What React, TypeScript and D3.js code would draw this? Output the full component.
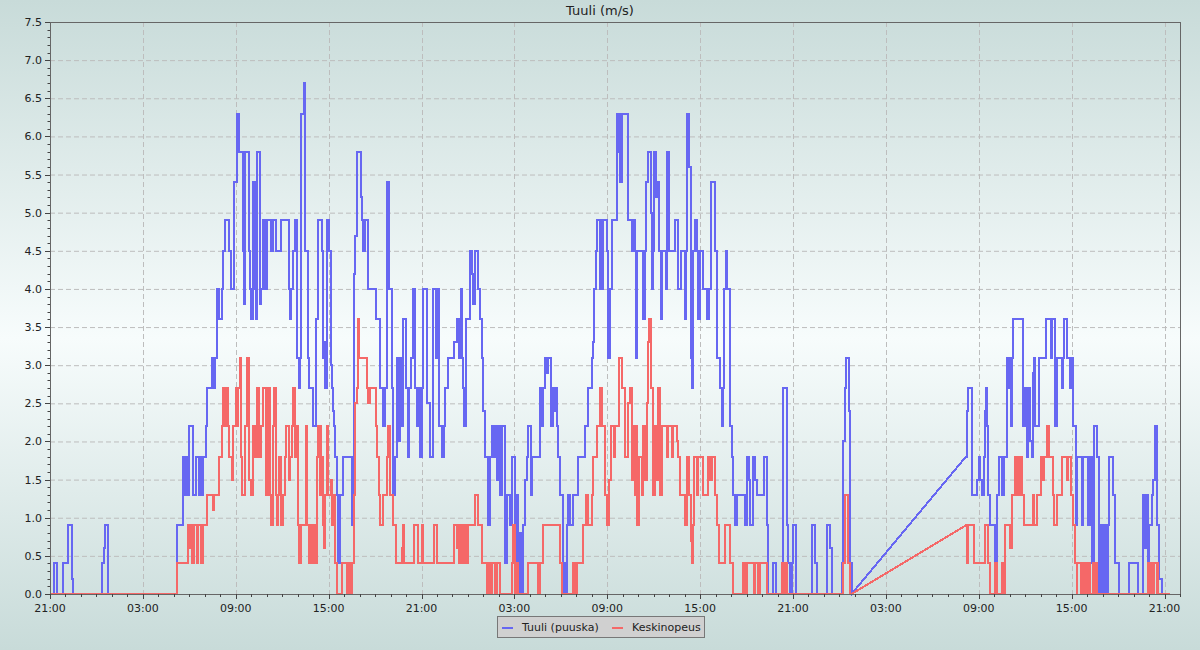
import React from "react";
import * as d3 from "d3";

// ---------- data ----------
const chartTitle = "Tuuli (m/s)";
const seriesNames = ["Tuuli (puuska)", "Keskinopeus"];
const seriesColors = ["#6767f2", "#f56868"];
// start of the time axis (21:00), data given as hours from this moment
const startTime = new Date(2024, 0, 1, 21, 0, 0);
const spanHours = 73;
const yMax = 7.5;
// missing-data interval: the line is joined straight across it
const gapHours = [51.78, 59.17];

// gust [hour, m/s] change points
const gustSteps: [number, number][] = [
  [0, 0], [0.28, 0.4], [0.47, 0], [0.86, 0.4], [1.18, 0.9], [1.4, 0.6], [1.44, 0.2], [1.51, 0],
  [3.34, 0.4], [3.51, 0.6], [3.57, 0.9], [3.77, 0], [8.2, 0.9], [8.61, 1.8], [8.7, 1.3], [8.76, 1.8],
  [8.83, 1.3], [9.0, 2.2], [9.22, 1.3], [9.43, 1.8], [9.65, 1.3], [9.73, 1.8], [9.86, 1.3], [9.91, 1.8],
  [10.08, 2.2], [10.16, 2.7], [10.44, 3.1], [10.55, 2.7], [10.64, 3.1], [10.77, 4.0], [10.94, 3.6],
  [11.11, 4.0], [11.15, 4.5], [11.28, 4.9], [11.54, 4.5], [11.67, 4.0], [11.91, 5.4], [12.06, 6.3],
  [12.23, 5.8], [12.45, 4.5], [12.53, 3.8], [12.62, 5.8], [12.86, 4.5], [12.92, 4.0], [13.01, 3.6],
  [13.09, 5.4], [13.18, 4.0], [13.27, 5.4], [13.31, 3.6], [13.4, 5.8], [13.57, 3.8], [13.66, 4.0],
  [13.74, 4.9], [13.91, 4.0], [14.04, 4.9], [14.3, 4.5], [14.38, 4.9], [14.6, 4.5], [14.94, 4.9],
  [15.42, 4.0], [15.5, 3.6], [15.59, 4.0], [15.72, 4.5], [15.83, 4.9], [15.98, 3.1], [16.06, 2.7],
  [16.15, 3.1], [16.24, 6.3], [16.41, 6.7], [16.5, 4.5], [16.67, 3.1], [16.75, 2.7], [16.97, 2.2],
  [17.18, 3.6], [17.34, 4.9], [17.55, 4.5], [17.61, 3.1], [17.7, 3.3], [17.76, 2.7], [17.87, 4.9],
  [18.05, 4.5], [18.13, 3.0], [18.19, 2.7], [18.26, 2.4], [18.35, 2.2], [18.43, 1.8], [18.56, 1.3],
  [18.63, 0.4], [18.73, 1.3], [18.91, 1.8], [19.49, 0.9], [19.6, 1.8], [19.64, 4.2], [19.72, 4.7],
  [19.81, 4.9], [19.85, 5.8], [20.07, 5.2], [20.13, 4.9], [20.24, 4.5], [20.35, 4.9], [20.56, 4.0],
  [21.04, 3.6], [21.32, 2.7], [21.53, 2.2], [21.66, 2.7], [21.75, 5.4], [21.92, 4.0], [22.07, 2.7],
  [22.18, 1.3], [22.29, 1.8], [22.39, 3.1], [22.5, 2.0], [22.61, 3.1], [22.72, 2.2], [22.82, 3.6],
  [23.0, 2.7], [23.13, 1.8], [23.21, 2.7], [23.3, 3.1], [23.43, 4.0], [23.58, 2.7], [23.69, 2.2],
  [23.82, 2.7], [23.9, 1.8], [24.01, 2.7], [24.12, 4.0], [24.38, 2.5], [24.55, 1.8], [24.76, 4.0],
  [24.93, 3.1], [25.02, 4.0], [25.15, 2.2], [25.3, 1.8], [25.45, 2.2], [25.54, 2.7], [25.73, 3.1],
  [26.1, 3.3], [26.27, 3.6], [26.44, 3.1], [26.53, 4.0], [26.6, 3.1], [26.66, 2.7], [26.74, 2.2],
  [26.87, 3.6], [27.13, 4.5], [27.24, 4.2], [27.35, 3.8], [27.45, 4.5], [27.67, 4.0], [27.78, 3.6],
  [27.89, 3.1], [28.0, 2.4], [28.1, 1.8], [28.32, 0.9], [28.42, 1.8], [28.53, 2.2], [28.64, 1.8],
  [28.75, 2.2], [28.85, 1.5], [28.96, 2.2], [29.07, 1.3], [29.18, 2.2], [29.39, 0.4], [29.5, 1.3],
  [29.71, 0.9], [29.82, 1.8], [30.04, 0.4], [30.15, 1.3], [30.25, 0], [30.36, 0.8], [30.47, 0],
  [30.58, 0.9], [30.68, 1.5], [30.79, 1.8], [30.9, 2.2], [31.05, 1.3], [31.11, 1.8], [31.65, 2.7],
  [31.76, 2.2], [31.87, 2.7], [31.98, 3.1], [32.08, 2.9], [32.19, 3.1], [32.34, 2.2], [32.47, 2.7],
  [32.56, 2.4], [32.62, 2.7], [32.73, 2.2], [32.84, 1.8], [32.95, 1.3], [33.12, 0], [33.16, 0.4],
  [33.27, 0], [33.37, 0.9], [33.48, 1.3], [33.59, 0.9], [33.8, 1.3], [34.13, 1.8], [34.56, 2.2],
  [34.78, 2.7], [34.99, 3.1], [35.1, 3.3], [35.14, 4.0], [35.27, 4.5], [35.36, 4.9], [35.5, 4.0],
  [35.58, 4.9], [35.66, 4.0], [35.75, 4.9], [35.96, 4.5], [36.07, 3.1], [36.18, 4.0], [36.28, 4.9],
  [36.61, 6.3], [36.71, 5.8], [36.78, 6.3], [36.82, 5.4], [36.93, 6.3], [37.36, 4.9], [37.58, 4.5],
  [37.68, 4.9], [37.79, 4.5], [37.86, 3.1], [37.94, 4.5], [38.29, 3.6], [38.41, 4.5], [38.5, 5.4],
  [38.65, 5.8], [38.8, 5.0], [38.87, 4.0], [38.93, 4.5], [39.02, 5.8], [39.15, 5.2], [39.23, 5.4],
  [39.36, 4.5], [39.45, 3.6], [39.51, 4.5], [39.79, 4.0], [39.84, 5.8], [40.01, 4.5], [40.38, 4.9],
  [40.59, 4.0], [40.74, 4.5], [41.02, 3.6], [41.08, 4.5], [41.17, 6.3], [41.3, 5.6], [41.39, 3.1],
  [41.45, 2.7], [41.52, 4.5], [41.67, 4.9], [41.78, 4.5], [41.88, 3.6], [41.99, 4.5], [42.16, 4.0],
  [42.46, 3.6], [42.55, 4.0], [42.68, 5.4], [42.96, 4.5], [43.07, 3.1], [43.28, 2.7], [43.39, 2.2],
  [43.5, 2.7], [43.54, 4.0], [43.67, 4.5], [43.75, 4.0], [43.93, 2.2], [44.03, 1.8], [44.14, 1.3],
  [44.25, 0.9], [44.4, 1.3], [44.9, 0.9], [45.05, 1.8], [45.18, 1.5], [45.22, 0.9], [45.39, 1.8],
  [45.54, 1.5], [45.69, 1.3], [46.12, 1.8], [46.34, 0.9], [46.41, 0], [46.68, 0.2], [46.73, 0.4],
  [46.9, 0], [47.27, 0.2], [47.33, 2.7], [47.59, 0.9], [47.7, 0.4], [47.8, 0], [47.91, 0.4],
  [47.98, 0.9], [48.19, 0], [49.2, 0.9], [49.42, 0.4], [49.55, 0], [50.22, 0.9], [50.39, 0.6],
  [50.52, 0], [51.14, 0.4], [51.25, 2.0], [51.35, 2.7], [51.42, 3.1], [51.59, 2.4], [51.68, 0.4],
  [51.78, 0], [59.17, 1.8], [59.26, 2.4], [59.32, 2.7], [59.54, 1.3], [59.91, 1.5], [60.01, 1.8],
  [60.08, 1.5], [60.19, 1.3], [60.34, 1.8], [60.4, 2.4], [60.47, 2.7], [60.55, 2.2], [60.62, 1.3],
  [60.72, 0.9], [61.05, 0.4], [61.15, 1.3], [61.33, 1.8], [61.48, 1.3], [61.63, 1.8], [61.8, 3.1],
  [61.91, 2.7], [62.02, 3.1], [62.06, 2.2], [62.12, 3.1], [62.23, 3.6], [62.88, 2.2], [62.98, 2.7],
  [63.09, 1.8], [63.2, 2.7], [63.31, 2.0], [63.42, 1.8], [63.52, 2.9], [63.57, 3.1], [63.63, 2.2],
  [63.91, 3.1], [64.34, 3.6], [64.64, 3.1], [64.75, 3.6], [64.92, 2.2], [65.07, 3.1], [65.35, 2.7],
  [65.46, 3.1], [65.5, 3.6], [65.68, 3.1], [65.89, 2.7], [66.0, 3.1], [66.11, 2.2], [66.28, 0.9],
  [66.37, 1.8], [66.67, 0.9], [66.76, 1.8], [67.08, 0.9], [67.19, 1.8], [67.3, 0.4], [67.45, 2.2],
  [67.66, 1.8], [67.79, 0], [67.87, 0.9], [68.05, 0], [68.09, 0.9], [68.22, 0], [68.37, 0.9],
  [68.43, 1.8], [68.65, 1.3], [68.8, 0.4], [69.08, 0], [69.72, 0.4], [70.31, 0], [70.63, 1.3],
  [70.74, 0.6], [70.84, 1.3], [70.95, 0.4], [71.02, 0.9], [71.17, 1.3], [71.27, 1.5], [71.38, 2.2],
  [71.53, 0.9], [71.66, 0.2], [71.81, 0], [72.35, 0],
];

// mean wind [hour, m/s] change points
const meanSteps: [number, number][] = [
  [0, 0], [8.2, 0.4], [8.94, 0.9], [9.05, 0.6], [9.09, 0.9], [9.2, 0.4], [9.3, 0.9], [9.47, 0.4],
  [9.58, 0.9], [9.73, 0.4], [9.86, 0.9], [10.12, 1.3], [10.55, 1.1], [10.59, 1.3], [10.94, 1.8],
  [11.09, 2.2], [11.2, 2.7], [11.31, 2.2], [11.41, 2.7], [11.52, 2.2], [11.59, 1.8], [11.74, 1.5],
  [11.8, 2.2], [12.02, 2.7], [12.1, 2.2], [12.17, 2.7], [12.28, 3.1], [12.36, 1.8], [12.4, 1.3],
  [12.62, 2.2], [12.71, 3.1], [12.88, 1.5], [12.96, 1.3], [13.14, 2.2], [13.22, 1.8], [13.4, 2.7],
  [13.52, 1.8], [13.61, 2.2], [13.78, 2.7], [13.96, 1.3], [14.08, 2.7], [14.21, 1.3], [14.3, 0.9],
  [14.38, 2.2], [14.47, 2.7], [14.6, 1.3], [14.64, 0.9], [14.73, 1.3], [14.81, 1.8], [14.9, 0.9],
  [15.03, 1.3], [15.16, 1.8], [15.25, 2.2], [15.42, 1.5], [15.5, 1.8], [15.63, 2.2], [15.72, 2.7],
  [15.81, 1.8], [15.94, 2.2], [16.04, 0.9], [16.11, 0.4], [16.19, 0.9], [16.54, 2.2], [16.62, 0.9],
  [16.71, 0.4], [16.8, 0.9], [16.9, 0.4], [17.01, 0.9], [17.12, 0.4], [17.23, 1.8], [17.31, 2.2],
  [17.44, 1.3], [17.48, 2.2], [17.51, 1.3], [17.57, 1.8], [17.62, 0.9], [17.7, 0.6], [17.77, 1.3],
  [17.87, 2.2], [17.98, 1.3], [18.13, 1.5], [18.19, 0.9], [18.3, 1.3], [18.41, 0.4], [18.52, 0],
  [18.84, 0.4], [19.21, 0], [19.28, 0.4], [19.38, 0], [19.48, 0.4], [19.66, 1.3], [19.72, 2.5],
  [19.81, 2.7], [19.92, 3.6], [19.98, 3.1], [20.46, 2.7], [20.54, 2.5], [20.67, 2.7], [21.06, 2.2],
  [21.14, 1.8], [21.23, 1.3], [21.32, 0.9], [21.49, 1.3], [21.75, 1.8], [21.86, 2.2], [21.97, 1.3],
  [22.18, 0.9], [22.35, 0.4], [22.71, 0.6], [22.78, 0.9], [22.87, 0.4], [23.51, 0.9], [23.79, 0.4],
  [24.01, 0.9], [24.12, 0.4], [24.81, 0.9], [24.98, 0.4], [26.1, 0.9], [26.27, 0.6], [26.31, 0.9],
  [26.44, 0.4], [26.57, 0.9], [26.66, 0.4], [26.76, 0.9], [26.84, 0.4], [26.92, 0.9], [26.97, 0.4],
  [27.02, 0.9], [27.45, 1.3], [27.67, 0.9], [27.89, 0.4], [28.21, 0], [28.32, 0.4], [28.42, 0],
  [28.53, 0.4], [28.75, 0], [28.85, 0.4], [29.07, 0], [29.82, 0.4], [29.93, 0.9], [30.04, 0],
  [30.15, 0.4], [30.25, 0], [30.9, 0.4], [31.55, 0], [31.65, 0.4], [31.87, 0.9], [32.95, 0.4],
  [33.05, 0], [33.81, 0.4], [33.91, 0], [34.02, 0.4], [34.45, 0.9], [34.62, 1.3], [34.78, 0.9],
  [34.99, 1.3], [35.1, 1.8], [35.31, 2.2], [35.53, 2.7], [35.64, 2.2], [35.85, 1.3], [36.0, 0.9],
  [36.13, 1.5], [36.22, 2.2], [36.43, 1.8], [36.5, 2.2], [36.78, 3.1], [36.93, 2.7], [37.15, 1.8],
  [37.36, 2.5], [37.47, 2.7], [37.58, 1.5], [37.68, 2.2], [37.79, 1.3], [37.86, 2.2], [37.94, 0.9],
  [38.07, 1.8], [38.22, 1.3], [38.33, 2.2], [38.44, 1.5], [38.54, 2.5], [38.65, 3.3], [38.71, 3.6],
  [38.8, 2.7], [38.97, 1.3], [39.08, 2.2], [39.23, 1.5], [39.3, 2.7], [39.41, 1.3], [39.51, 2.2],
  [39.84, 1.8], [39.94, 2.2], [40.16, 1.8], [40.27, 2.2], [40.48, 2.0], [40.59, 1.8], [40.7, 1.3],
  [41.02, 0.9], [41.13, 1.8], [41.3, 1.3], [41.39, 0.7], [41.47, 0.4], [41.52, 0.9], [41.6, 1.8],
  [41.78, 1.3], [41.88, 1.8], [42.21, 1.3], [42.53, 1.8], [42.64, 1.5], [42.75, 1.8], [42.96, 1.3],
  [43.07, 0.9], [43.24, 0.4], [43.6, 0.9], [43.93, 0.4], [44.14, 0], [44.75, 0.4], [44.9, 0],
  [45.01, 0.4], [45.48, 0], [45.54, 0.4], [45.76, 0], [45.87, 0.4], [46.34, 0], [47.27, 0.4],
  [47.38, 0], [47.48, 0.4], [47.59, 0], [51.21, 0.4], [51.36, 1.3], [51.58, 0.4], [51.68, 0],
  [51.78, 0], [59.17, 0.9], [59.26, 0.4], [59.32, 0.9], [59.69, 0.4], [60.4, 0.9], [60.62, 0.4],
  [60.72, 0], [61.05, 0.4], [61.15, 0], [61.48, 0.4], [61.63, 0], [61.7, 0.9], [62.02, 0.6],
  [62.13, 1.3], [62.34, 1.8], [62.41, 1.3], [62.49, 1.8], [62.62, 1.3], [62.66, 1.8], [62.77, 1.3],
  [62.92, 0.9], [63.48, 1.3], [63.57, 0.9], [63.74, 1.3], [64.0, 1.8], [64.13, 1.5], [64.21, 1.8],
  [64.39, 2.2], [64.56, 1.8], [64.82, 1.3], [64.88, 0.9], [65.03, 1.3], [65.35, 1.8], [65.68, 1.5],
  [65.78, 1.8], [65.94, 1.3], [66.11, 0.9], [66.22, 0.4], [66.32, 0], [66.37, 0.4], [66.58, 0],
  [66.65, 0.4], [66.8, 0], [66.88, 0.4], [66.97, 0], [67.08, 0.4], [67.19, 0], [67.4, 0.4],
  [67.51, 0], [67.57, 0.4], [67.66, 0], [70.95, 0.4], [71.06, 0], [71.13, 0.4], [71.27, 0],
  [71.33, 0.4], [71.49, 0], [71.53, 0.4], [71.6, 0], [72.35, 0],
];

// ---------- layout ----------
const W = 1200;
const H = 650;
const plot = { left: 50, right: 1180, top: 22, bottom: 594 };
const font = "DejaVu Sans, Verdana, sans-serif";

const toDate = (h: number) => new Date(startTime.getTime() + h * 3600 * 1000);
const endTime = toDate(spanHours);

const x = d3.scaleTime().domain([startTime, endTime]).range([plot.left, plot.right]);
const y = d3.scaleLinear().domain([0, yMax]).range([plot.bottom, plot.top]);

function stepPoints(steps: [number, number][]): [number, number][] {
  const pts: [number, number][] = [];
  for (let i = 0; i < steps.length; i++) {
    const [h, v] = steps[i];
    pts.push([h, v]);
    if (i + 1 < steps.length && h !== gapHours[0]) pts.push([steps[i + 1][0], v]);
  }
  return pts;
}

const line = d3
  .line<[number, number]>()
  .x((d) => x(toDate(d[0])))
  .y((d) => y(d[1]));

export default function App() {
  const majorY = d3.range(0, yMax + 0.001, 0.5);
  const minorY = d3.range(0, yMax + 0.001, 0.1);
  const majorX = d3.timeHour.range(startTime, new Date(endTime.getTime() + 1), 6);
  const minorX = d3.timeHour.range(startTime, new Date(endTime.getTime() + 1), 1);
  const fmt = d3.timeFormat("%H:%M");
  const series = [gustSteps, meanSteps];

  const legendX = 497;
  const legendY = 616;
  return (
    <svg
      width={W}
      height={H}
      style={{ position: "absolute", left: 0, top: 0, display: "block" }}
      fontFamily={font}
    >
      <defs>
        <linearGradient id="bg" x1="0" y1="0" x2="0" y2="1">
          <stop offset="0" stopColor="#c8dbd9" />
          <stop offset="0.52" stopColor="#f7fcfc" />
          <stop offset="1" stopColor="#c8dbd9" />
        </linearGradient>
      </defs>
      <rect x={0} y={0} width={W} height={H} fill="url(#bg)" />

      {/* grid */}
      {majorY.map((v) => (
        <line
          key={"gy" + v}
          x1={plot.left}
          x2={plot.right}
          y1={y(v) + 0.5}
          y2={y(v) + 0.5}
          stroke="#bdbdbd"
          strokeDasharray="5,3"
        />
      ))}
      {majorX.map((t) => (
        <line
          key={"gx" + t.getTime()}
          x1={Math.round(x(t)) + 0.5}
          x2={Math.round(x(t)) + 0.5}
          y1={plot.top}
          y2={plot.bottom}
          stroke="#bdbdbd"
          strokeDasharray="5,3"
        />
      ))}

      {/* series */}
      {series.map((s, i) => (
        <path
          key={"s" + i}
          d={line(stepPoints(s)) || ""}
          fill="none"
          stroke={seriesColors[i]}
          strokeWidth={2}
          shapeRendering="crispEdges"
        />
      ))}

      {/* frame */}
      <rect
        x={plot.left + 0.5}
        y={plot.top + 0.5}
        width={plot.right - plot.left}
        height={plot.bottom - plot.top}
        fill="none"
        stroke="#666"
      />

      {/* y ticks */}
      {minorY.map((v) => (
        <line key={"my" + v} x1={plot.left - 2.5} x2={plot.left} y1={Math.round(y(v)) + 0.5} y2={Math.round(y(v)) + 0.5} stroke="#444" />
      ))}
      {majorY.map((v) => (
        <g key={"ty" + v}>
          <line x1={plot.left - 5} x2={plot.left} y1={Math.round(y(v)) + 0.5} y2={Math.round(y(v)) + 0.5} stroke="#444" />
          <text x={plot.left - 8} y={y(v) + 4} textAnchor="end" fontSize={11} fill="#222">
            {v.toFixed(1)}
          </text>
        </g>
      ))}

      {/* x ticks */}
      {minorX.map((t) => (
        <line key={"mx" + t.getTime()} x1={Math.round(x(t)) + 0.5} x2={Math.round(x(t)) + 0.5} y1={plot.bottom} y2={plot.bottom + 3} stroke="#444" />
      ))}
      {majorX.map((t) => (
        <g key={"tx" + t.getTime()}>
          <line x1={Math.round(x(t)) + 0.5} x2={Math.round(x(t)) + 0.5} y1={plot.bottom} y2={plot.bottom + 5} stroke="#444" />
          <text x={x(t)} y={plot.bottom + 18} textAnchor="middle" fontSize={11} fill="#222">
            {fmt(t)}
          </text>
        </g>
      ))}

      {/* title */}
      <text x={600} y={15} textAnchor="middle" fontSize={13} fill="#222">
        {chartTitle}
      </text>

      {/* legend */}
      <rect x={legendX + 0.5} y={legendY + 0.5} width={207} height={21} fill="#d0d0d0" stroke="#777" />
      {seriesNames.map((name, i) => {
        const ox = legendX + 5 + i * 110;
        return (
          <g key={"lg" + i}>
            <line x1={ox} x2={ox + 11} y1={legendY + 12} y2={legendY + 12} stroke={seriesColors[i]} strokeWidth={2} />
            <text x={ox + 20} y={legendY + 15} fontSize={11} fill="#222">
              {name}
            </text>
          </g>
        );
      })}
    </svg>
  );
}
